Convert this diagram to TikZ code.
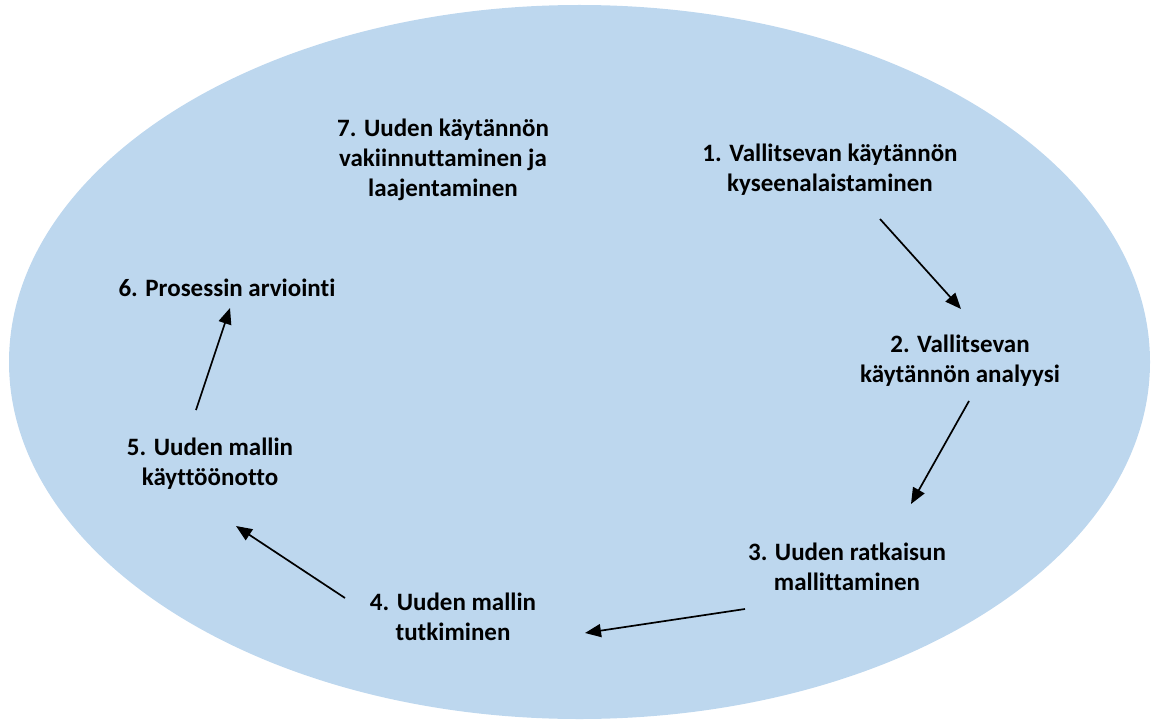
\documentclass[tikz,border=0pt]{standalone}
\usepackage{fontspec}
\setmainfont{Carlito}[Ligatures={NoCommon,TeX}]
\usetikzlibrary{arrows.meta}
\definecolor{cyclefill}{HTML}{BDD7EE}
\tikzset{
  phase/.style={align=center, font=\bfseries\fontsize{25}{30}\selectfont, text=black, inner sep=0pt},
  flow/.style={line width=1.7pt, -{Triangle[length=16pt,width=13pt]}}
}
\begin{document}
\begin{tikzpicture}[x=1pt,y=-1pt]
\useasboundingbox (0,0) rectangle (1153,722);
% background ellipse
\fill[cyclefill] (579.5,362) ellipse [x radius=570.5, y radius=357];
% phases
\node[phase] (p1) at (830,170) {1. Vallitsevan käytännön\\kyseenalaistaminen};
\node[phase] (p2) at (960,361) {2. Vallitsevan\\käytännön analyysi};
\node[phase] (p3) at (847,567) {3. Uuden ratkaisun\\mallittaminen};
\node[phase] (p4) at (453,617) {4. Uuden mallin\\tutkiminen};
\node[phase] (p5) at (210,464) {5. Uuden mallin\\käyttöönotto};
\node[phase] (p6) at (227,288) {6. Prosessin arviointi};
\node[phase] (p7) at (443,160) {7. Uuden käytännön\\vakiinnuttaminen ja\\laajentaminen};
% arrow end points
\coordinate (a1) at (880,219);
\coordinate (b1) at (961,309);
\coordinate (a2) at (969,401);
\coordinate (b2) at (911,504);
\coordinate (a3) at (745,609);
\coordinate (b3) at (585,633);
\coordinate (a4) at (345,598);
\coordinate (b4) at (236,526);
\coordinate (a5) at (196,410);
\coordinate (b5) at (230,308);
\draw[flow] (a1) -- (b1);
\draw[flow] (a2) -- (b2);
\draw[flow] (a3) -- (b3);
\draw[flow] (a4) -- (b4);
\draw[flow] (a5) -- (b5);
\end{tikzpicture}
\end{document}
